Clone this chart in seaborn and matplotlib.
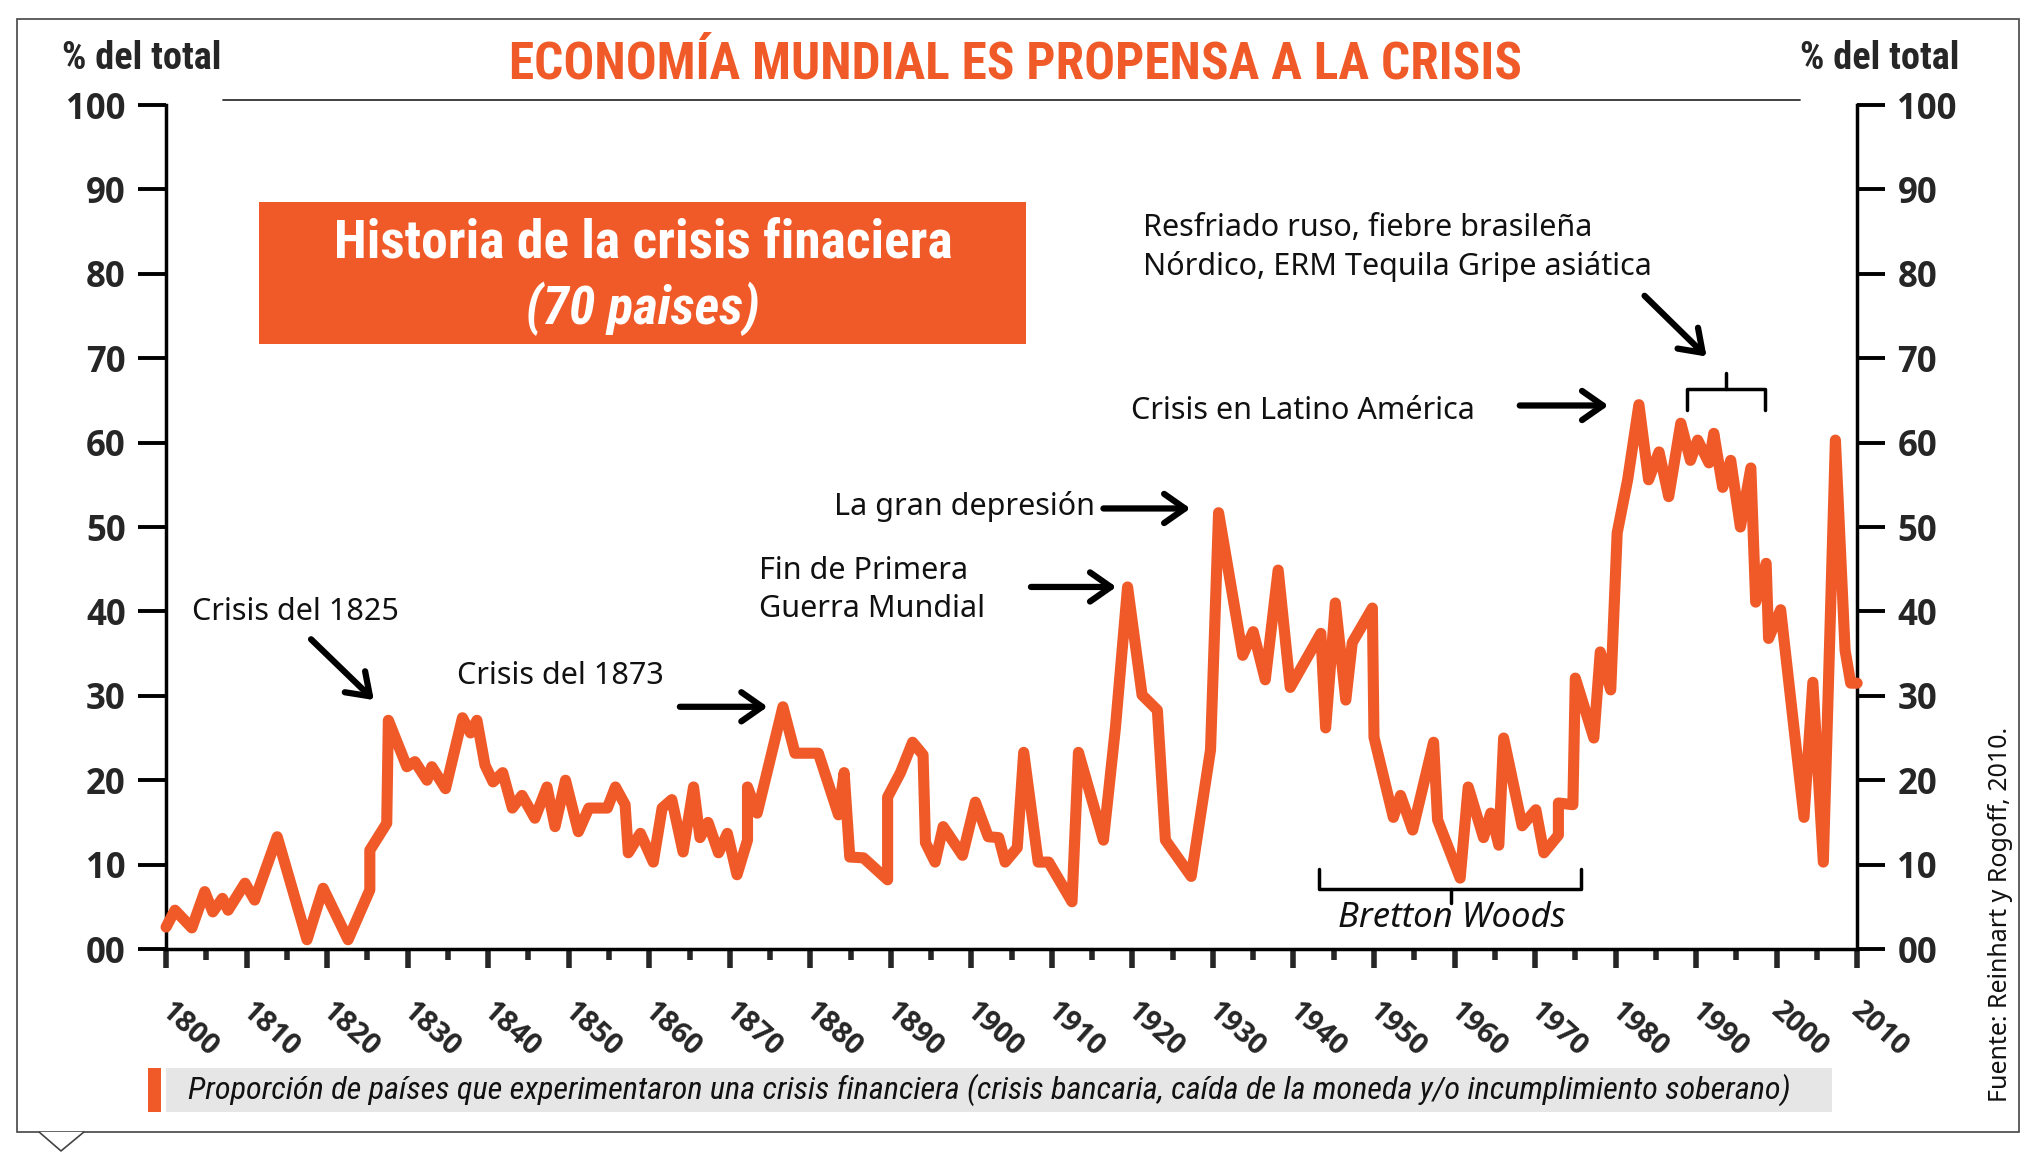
import pandas as pd
import seaborn as sns
import matplotlib.pyplot as plt
from matplotlib import font_manager
from matplotlib import transforms
from matplotlib.patches import Rectangle, Polygon
from matplotlib.lines import Line2D

# datos (proporcion de paises en crisis, %)
years = [
    1800.0, 1801.1, 1803.2, 1804.8, 1805.8, 1807.0, 1807.7, 1809.8, 1811.0, 1813.8,
    1817.5, 1819.5, 1822.6, 1825.3, 1825.3, 1827.4, 1827.6, 1829.9, 1830.9, 1832.4,
    1833.0, 1834.7, 1836.8, 1837.8, 1838.6, 1839.6, 1840.6, 1841.8, 1843.0, 1844.2,
    1845.8, 1847.3, 1848.3, 1849.6, 1851.2, 1852.5, 1854.8, 1855.8, 1857.0, 1857.4,
    1858.9, 1860.5, 1861.6, 1862.8, 1864.2, 1865.5, 1866.3, 1867.3, 1868.6, 1869.7,
    1870.9, 1872.2, 1872.2, 1873.4, 1876.6, 1878.1, 1881.0, 1883.5, 1884.2, 1884.9,
    1886.6, 1889.6, 1889.6, 1891.2, 1892.7, 1894.0, 1894.3, 1895.5, 1896.5, 1898.9,
    1900.5, 1902.1, 1903.4, 1904.2, 1905.7, 1906.5, 1908.3, 1909.6, 1912.5, 1913.3,
    1916.4, 1917.9, 1919.4, 1921.2, 1923.1, 1924.1, 1927.3, 1929.7, 1930.7, 1933.7,
    1935.0, 1936.5, 1938.1, 1939.6, 1943.4, 1944.0, 1945.2, 1946.5, 1947.3, 1949.8,
    1950.0, 1952.4, 1953.3, 1954.8, 1957.4, 1957.9, 1960.7, 1961.7, 1963.6, 1964.5,
    1965.5, 1966.1, 1968.4, 1970.1, 1971.1, 1972.9, 1972.9, 1974.7, 1975.0, 1977.3,
    1978.1, 1979.4, 1980.2, 1981.5, 1982.9, 1984.1, 1985.4, 1986.6, 1988.1, 1989.3,
    1990.2, 1991.6, 1992.2, 1993.3, 1994.3, 1995.5, 1996.8, 1997.4, 1998.7, 1999.0,
    2000.5, 2003.4, 2004.5, 2005.8, 2007.3, 2008.5, 2009.2, 2010.0,
]
pct = [
    2.6, 4.6, 2.5, 6.8, 4.4, 6.0, 4.6, 7.8, 5.8, 13.3,
    1.1, 7.2, 1.1, 7.0, 11.7, 14.9, 27.1, 21.6, 22.2, 20.0,
    21.6, 19.0, 27.4, 25.6, 27.1, 21.8, 19.8, 20.9, 16.7, 18.2,
    15.5, 19.2, 14.5, 20.0, 13.9, 16.7, 16.7, 19.2, 17.1, 11.4,
    13.7, 10.3, 16.7, 17.7, 11.5, 19.2, 13.2, 15.0, 11.4, 13.7,
    8.8, 12.9, 19.2, 16.1, 28.7, 23.2, 23.2, 15.9, 20.9, 10.9,
    10.8, 8.2, 18.0, 20.9, 24.5, 23.0, 12.6, 10.3, 14.5, 11.1,
    17.4, 13.3, 13.2, 10.3, 12.0, 23.3, 10.3, 10.3, 5.6, 23.3,
    12.9, 26.3, 42.9, 30.1, 28.3, 12.9, 8.6, 23.6, 51.7, 34.8,
    37.6, 31.9, 44.9, 31.0, 37.4, 26.2, 41.0, 29.5, 36.3, 40.4,
    25.1, 15.6, 18.2, 14.1, 24.5, 15.3, 8.4, 19.2, 13.2, 16.1,
    12.3, 25.0, 14.6, 16.5, 11.4, 13.5, 17.3, 17.1, 32.1, 25.0,
    35.2, 30.7, 49.3, 55.6, 64.5, 55.6, 58.9, 53.6, 62.3, 57.9,
    60.3, 57.6, 61.1, 54.7, 57.9, 50.0, 57.0, 41.1, 45.7, 36.8,
    40.2, 15.6, 31.6, 10.3, 60.3, 35.4, 31.5, 31.5,
]

y_ticks = [0, 10, 20, 30, 40, 50, 60, 70, 80, 90, 100]
y_labels = ["00", "10", "20", "30", "40", "50", "60", "70", "80", "90", "100"]
decades = list(range(1800, 2011, 10))
halves = list(range(1805, 2006, 10))

# anotaciones: (texto, x, y) y flechas (cola, punta)
notes = [
    ("Crisis del 1825", 1803.2, 39.9),
    ("Crisis del 1873", 1836.1, 32.3),
    ("Fin de Primera\nGuerra Mundial", 1873.6, 42.5),
    ("La gran depresión", 1882.9, 52.4),
    ("Crisis en Latino América", 1919.8, 63.7),
    ("Resfriado ruso, fiebre brasileña\nNórdico, ERM Tequila Gripe asiática", 1921.3, 83.1),
]
arrows = [
    ((1818.0, 36.7), (1825.8, 29.5)),
    ((1863.8, 28.7), (1874.7, 28.7)),
    ((1907.4, 42.9), (1918.0, 42.9)),
    ((1916.4, 52.2), (1927.2, 52.2)),
    ((1968.1, 64.4), (1979.1, 64.4)),
    ((1983.6, 77.4), (1991.3, 70.2)),
]

ORANGE = "#F05A28"

fonts = font_manager.fontManager.ttflist
installed = {f.name for f in fonts}
with_bold = {f.name for f in fonts if f.weight in ("bold", 700, 600, "semibold", "demibold")
             or (isinstance(f.weight, int) and f.weight >= 600)}


def pick(names, pool):
    for n in names:
        if n in pool:
            return n
    return "DejaVu Sans"


SANS = pick(["Noto Sans", "Open Sans", "DejaVu Sans"], installed)
BOLD = pick(["Open Sans", "Noto Sans", "Lato", "Roboto", "DejaVu Sans"], with_bold)
COND = pick(["Roboto Condensed", "Open Sans Condensed", "Liberation Sans Narrow",
             "DejaVu Sans Condensed", "Roboto"], installed)

sns.set_style("white")
plt.rcParams["font.family"] = [SANS, "DejaVu Sans"]

fig = plt.figure(figsize=(20.33, 11.66), dpi=100)
ax = fig.add_axes([0.0817, 0.1861, 0.8318, 0.7238])

df = pd.DataFrame({"year": years, "pct": pct})
sns.lineplot(data=df, x="year", y="pct", ax=ax, color=ORANGE, linewidth=8,
             estimator=None, sort=False, legend=False, zorder=3,
             solid_capstyle="round", solid_joinstyle="round", clip_on=False)

ax.set_xlim(1800, 2010)
ax.set_ylim(0, 100)
ax.set_xlabel("")
ax.set_ylabel("")
ax.spines["top"].set_visible(False)
for side in ["left", "right", "bottom"]:
    ax.spines[side].set_visible(True)
    ax.spines[side].set_linewidth(2.5)
    ax.spines[side].set_color("black")

# eje y a ambos lados
ax.set_yticks(y_ticks, y_labels)
ax.tick_params(axis="y", direction="out", length=20, width=2.8, left=True, right=True,
               labelleft=True, labelright=True, labelsize=25, pad=9, color="black")
for t in ax.yaxis.get_major_ticks():
    for lab in (t.label1, t.label2):
        lab.set_fontfamily([BOLD, "DejaVu Sans"])
        lab.set_fontweight("bold")

# eje x con anos inclinados
ax.set_xticks(decades, [str(d) for d in decades])
ax.set_xticks(halves, minor=True)
ax.tick_params(axis="x", which="major", direction="out", length=14, width=4,
               labelsize=21, pad=20, bottom=True)
ax.tick_params(axis="x", which="minor", direction="out", length=8, width=4, bottom=True)
shift = transforms.ScaledTranslation(0.08, 0, fig.dpi_scale_trans)
for lab in ax.get_xticklabels():
    lab.set_rotation(-42)
    lab.set_rotation_mode("anchor")
    lab.set_ha("left")
    lab.set_va("top")
    lab.set_fontfamily([BOLD, "DejaVu Sans"])
    lab.set_fontweight("bold")
    lab.set_transform(lab.get_transform() + shift)

# textos y flechas
for txt, x, y in notes:
    ax.text(x, y, txt, fontsize=22, ha="left", va="center", linespacing=1.35,
            color="#111111")
for tail, head in arrows:
    ax.annotate("", xy=head, xytext=tail,
                arrowprops=dict(arrowstyle="->,head_length=0.5,head_width=0.35",
                                lw=4.5, color="black", mutation_scale=30,
                                shrinkA=0, shrinkB=0))

# corchetes
ax.plot([1988.9, 1988.9, 1998.5, 1998.5], [63.9, 66.4, 66.4, 63.9], color="black", lw=2.5)
ax.plot([1993.7, 1993.7], [66.4, 68.2], color="black", lw=2.5)
ax.plot([1943.2, 1943.2, 1975.7, 1975.7], [9.5, 7.1, 7.1, 9.5], color="black", lw=2.5)
ax.plot([1959.6, 1959.6], [7.1, 5.4], color="black", lw=2.5)
ax.text(1959.7, 3.7, "Bretton Woods", fontsize=25, style="italic", ha="center",
        va="center", color="#111111")

# titulo y encabezados
fig.text(0.4993, 0.9445, "ECONOMÍA MUNDIAL ES PROPENSA A LA CRISIS", family=[COND, "DejaVu Sans"],
         fontsize=37, fontweight="bold", color=ORANGE, ha="center", va="center")
fig.text(0.0305, 0.9500, "% del total", family=[COND, "DejaVu Sans"], fontsize=27.5,
         fontweight="bold", ha="left", va="center")
fig.text(0.8854, 0.9500, "% del total", family=[COND, "DejaVu Sans"], fontsize=27.5,
         fontweight="bold", ha="left", va="center")
fig.add_artist(Line2D([0.1097, 0.8854], [0.9142, 0.9142], transform=fig.transFigure,
                      color="#333333", lw=1.3))

# recuadro naranja
fig.add_artist(Rectangle((0.1274, 0.7050), 0.3773, 0.1218, transform=fig.transFigure,
                         facecolor=ORANGE, edgecolor="none", zorder=2))
fig.text(0.3163, 0.7915, "Historia de la crisis finaciera", family=[COND, "DejaVu Sans"],
         fontsize=38.5, fontweight="bold", color="white", ha="center", va="center", zorder=3)
fig.text(0.3163, 0.7355, "(70 paises)", family=[COND, "DejaVu Sans"], fontsize=38.5,
         fontweight="bold", style="italic", color="white", ha="center", va="center", zorder=3)

# leyenda inferior
fig.add_artist(Rectangle((0.0817, 0.0463), 0.8195, 0.0377, transform=fig.transFigure,
                         facecolor="#E6E6E6", edgecolor="none"))
fig.add_artist(Rectangle((0.0728, 0.0463), 0.0064, 0.0377, transform=fig.transFigure,
                         facecolor=ORANGE, edgecolor="none"))
fig.text(0.0925, 0.0652,
         "Proporción de países que experimentaron una crisis financiera "
         "(crisis bancaria, caída de la moneda y/o incumplimiento soberano)",
         family=[COND, "DejaVu Sans"], fontsize=23.2, style="italic", ha="left", va="center",
         color="#111111")

fig.text(0.9838, 0.2161, "Fuente: Reinhart y Rogoff, 2010.", fontsize=18, rotation=90,
         ha="center", va="center", color="#111111")

# marco exterior
fig.add_artist(Rectangle((0.0084, 0.0292), 0.9847, 0.9545, transform=fig.transFigure,
                         fill=False, edgecolor="#444444", lw=1.2))
fig.add_artist(Polygon([[0.0192, 0.0292], [0.0300, 0.0129], [0.0413, 0.0292]], closed=True,
                       transform=fig.transFigure, facecolor="white", edgecolor="none"))
fig.add_artist(Line2D([0.0192, 0.0300, 0.0413], [0.0292, 0.0129, 0.0292],
                      transform=fig.transFigure, color="#444444", lw=1.2))

fig.savefig("out.png", dpi=100)
